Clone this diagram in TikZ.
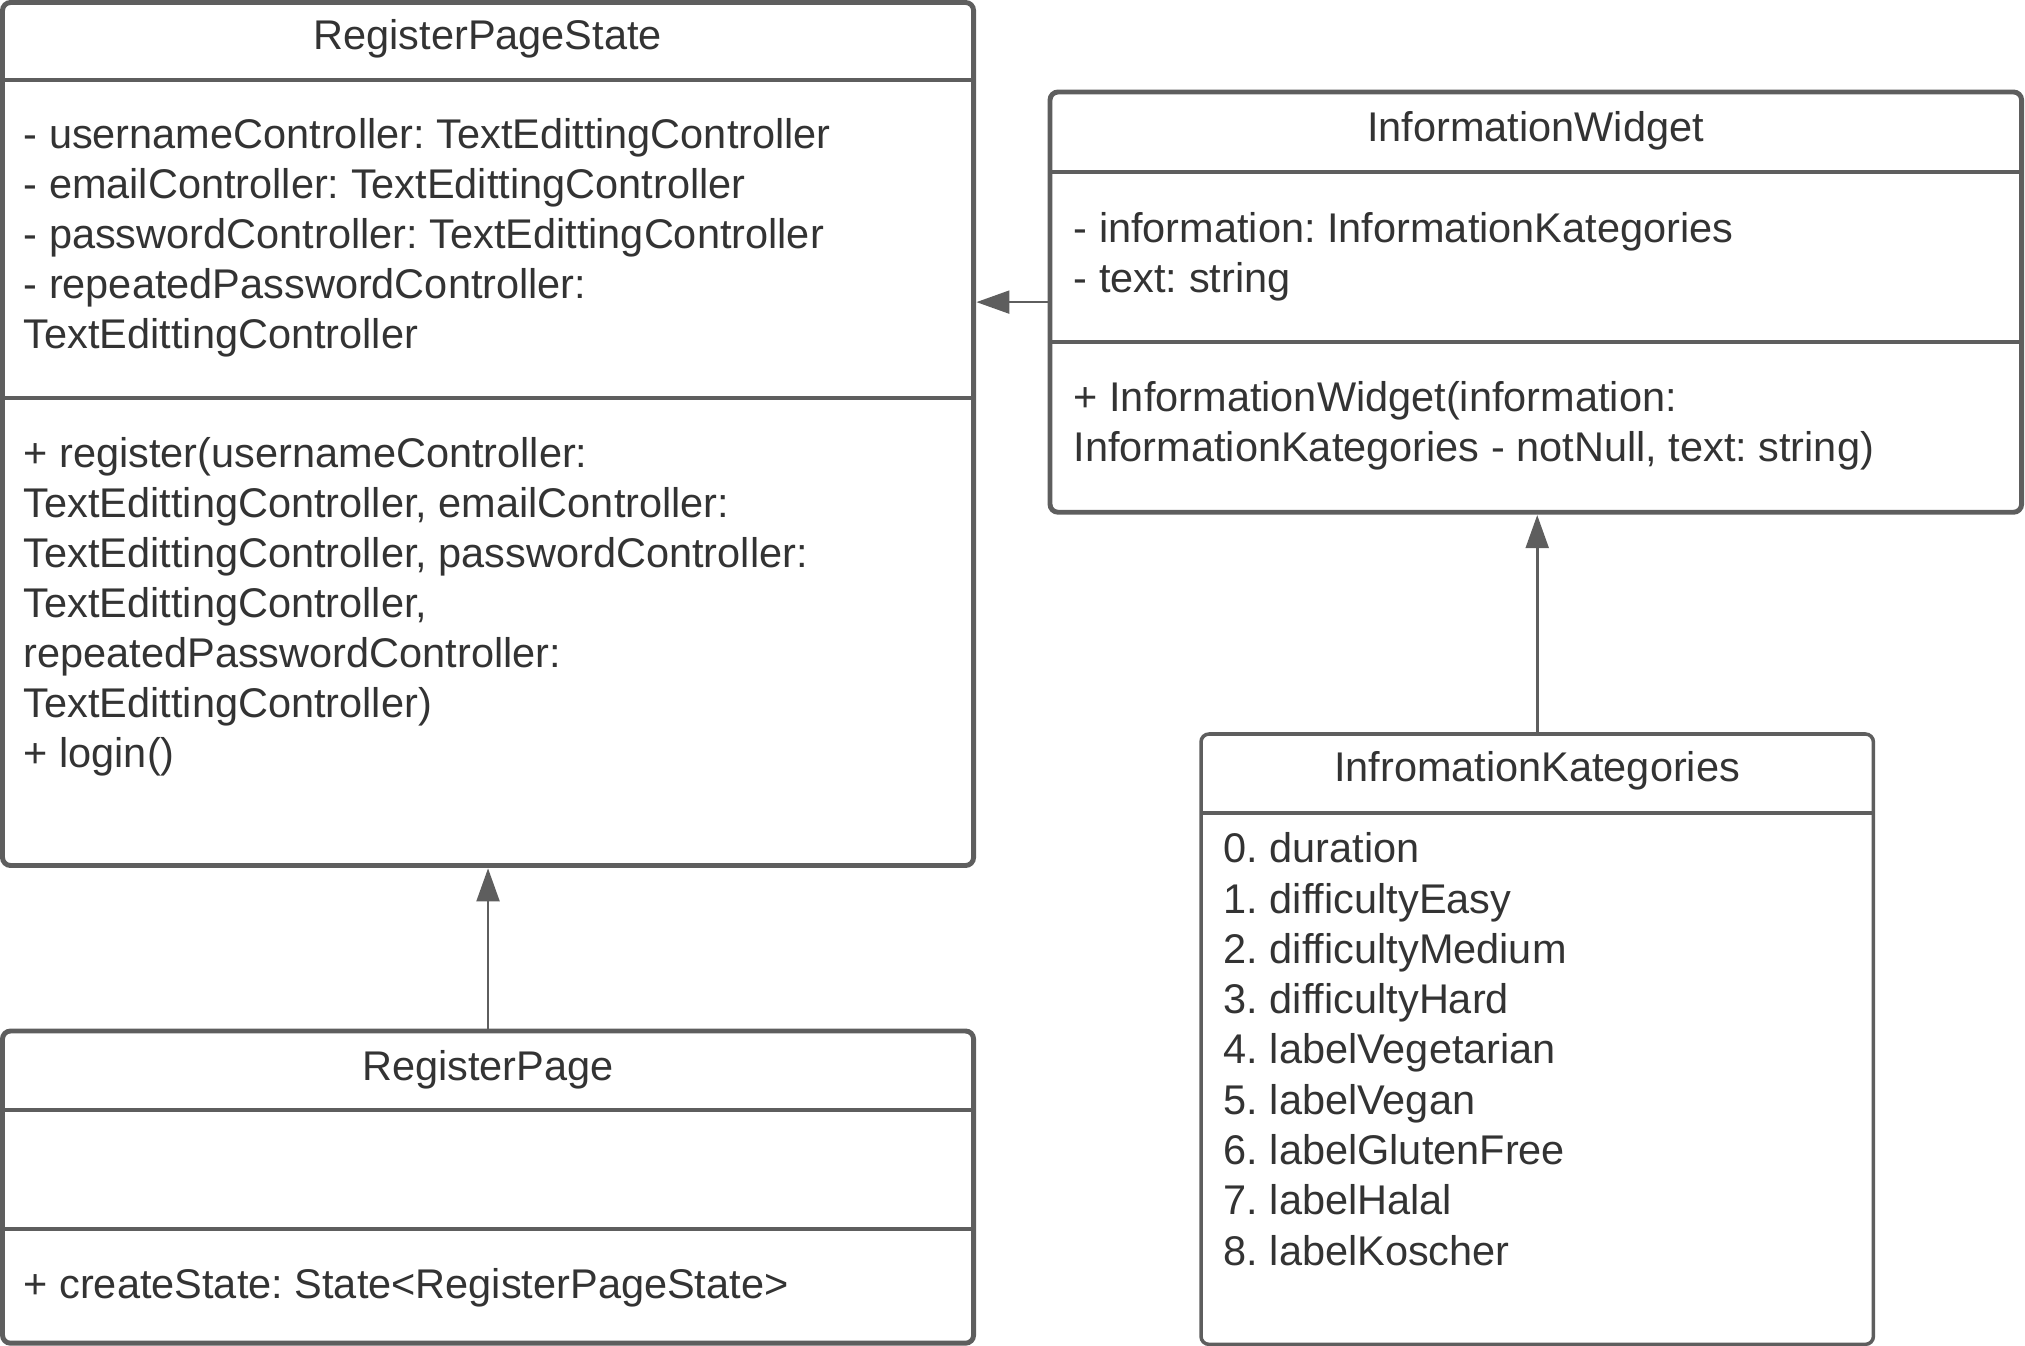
\documentclass[tikz,border=0pt]{standalone}
\usepackage{fontspec}
\setmainfont{Liberation Sans}
\usetikzlibrary{arrows.meta}
\definecolor{linegray}{HTML}{5E5E5E}
\definecolor{textgray}{HTML}{333333}
\newcommand{\umlfont}{\fontsize{11.8}{14.2}\selectfont}
\frenchspacing

\begin{document}
\begin{tikzpicture}[x=0.01cm,y=-0.01cm,
    umlbox/.style={draw=linegray, line width=1.4pt, rounded corners=0.08cm, inner sep=0pt, outer sep=0pt, anchor=north west},
    sepline/.style={draw=linegray, line width=1.4pt},
    umltitle/.style={text=textgray, font=\umlfont, inner sep=0pt, anchor=base},
    umltext/.style={text=textgray, font=\umlfont, inner sep=0pt, align=left, anchor=north west},
    inherit/.style={draw=linegray, line width=0.75pt, -{Triangle[length=9.4pt,width=6.5pt]}, shorten >=0.8pt}]
    \useasboundingbox (0,0) rectangle (2025,1346);

    % RegisterPageState
    \node[umlbox, minimum width=9.705cm, minimum height=8.625cm] (rps) at (2.5,2.5) {};
    \draw[sepline] (rps.west |- 0,80) -- (rps.east |- 0,80);
    \draw[sepline] (rps.west |- 0,398) -- (rps.east |- 0,398);
    \node[umltitle] (rpstitle) at (487.75,50) {RegisterPageState};
    \node[umltext] (rpsattr) at (23,118) {- usernameController: TextEdittingController\\
        - emailController: TextEdittingController\\
        - passwordController: TextEdittingController\\
        - repeatedPasswordController:\\
        TextEdittingController};
    \node[umltext] (rpsops) at (23,437) {+ register(usernameController:\\
        TextEdittingController, emailController:\\
        TextEdittingController, passwordController:\\
        TextEdittingController,\\
        repeatedPasswordController:\\
        TextEdittingController)\\
        + login()};

    % InformationWidget
    \node[umlbox, minimum width=9.71cm, minimum height=4.2cm] (iw) at (1050,92) {};
    \draw[sepline] (iw.west |- 0,172) -- (iw.east |- 0,172);
    \draw[sepline] (iw.west |- 0,342) -- (iw.east |- 0,342);
    \node[umltitle] (iwtitle) at (1535.5,142) {InformationWidget};
    \node[umltext] (iwattr) at (1073,212) {- information: InformationKategories\\
        - text: string};
    \node[umltext] (iwops) at (1073,381) {+ InformationWidget(information:\\
        InformationKategories - notNull, text: string)};

    % RegisterPage
    \node[umlbox, minimum width=9.705cm, minimum height=3.12cm] (rp) at (2.5,1031) {};
    \draw[sepline] (rp.west |- 0,1110) -- (rp.east |- 0,1110);
    \draw[sepline] (rp.west |- 0,1229) -- (rp.east |- 0,1229);
    \node[umltitle] (rptitle) at (487.75,1080) {RegisterPage};
    \node[umltext] (rpops) at (23,1268) {+ createState: State<RegisterPageState>};

    % InfromationKategories
    \node[umlbox, line width=1pt, minimum width=6.72cm, minimum height=6.1cm] (ik) at (1201,734) {};
    \draw[sepline, line width=1pt] (ik.west |- 0,813) -- (ik.east |- 0,813);
    \node[umltitle] (iktitle) at (1537,781) {InfromationKategories};
    \node[umltext, font=\fontsize{11.8}{14.3}\selectfont] (ikitems) at (1223,832) {0. duration\\
        1. difficultyEasy\\
        2. difficultyMedium\\
        3. difficultyHard\\
        4. labelVegetarian\\
        5. labelVegan\\
        6. labelGlutenFree\\
        7. labelHalal\\
        8. labelKoscher};

    % arrows
    \draw[inherit] (rp.north) -- (rps.south);
    \draw[inherit] (iw.west) -- (iw.west -| rps.east);
    \draw[inherit] (ik.north) -- (ik.north |- iw.south);
\end{tikzpicture}
\end{document}
